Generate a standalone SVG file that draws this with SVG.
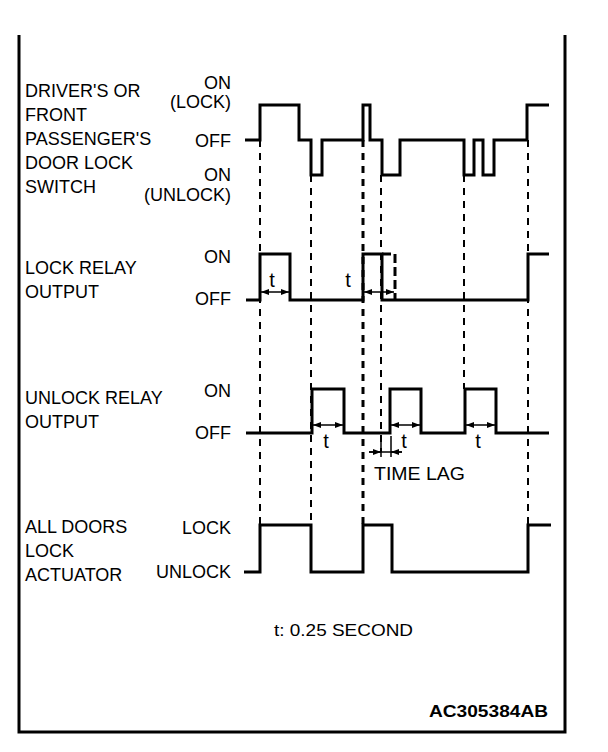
<svg xmlns="http://www.w3.org/2000/svg" width="608" height="752" viewBox="0 0 608 752">
<style>
text{font-family:"Liberation Sans",Arial,sans-serif;font-size:18px;fill:#000}
.r{text-anchor:end}
.t{text-anchor:middle;font-size:20px}
.wave{fill:none;stroke:#000;stroke-width:3;stroke-linejoin:miter;stroke-linecap:butt}
.dash{fill:none;stroke:#000;stroke-width:2;stroke-dasharray:7 6}
.dim{fill:none;stroke:#000;stroke-width:1.5}
.frame{fill:none;stroke:#000;stroke-width:3}
</style>
<defs>
<marker id="ah" viewBox="0 0 8 6" refX="8" refY="3" markerWidth="8" markerHeight="6" markerUnits="userSpaceOnUse" orient="auto-start-reverse">
<path d="M0,0 L8,3 L0,6 z" fill="#000"/>
</marker>
</defs>
<rect width="608" height="752" fill="#fff"/>
<path class="frame" d="M19,35 V732 H565 V35"/>

<g id="connectors">
<line class="dash" x1="260" y1="140" x2="260" y2="525"/>
<line class="dash" x1="311" y1="175" x2="311" y2="525"/>
<line class="dash" x1="363" y1="140" x2="363" y2="525" style="stroke-width:3"/>
<line class="dash" x1="381" y1="175" x2="381" y2="452"/>
<line class="dash" x1="464" y1="175" x2="464" y2="389"/>
<line class="dash" x1="528" y1="140" x2="528" y2="525"/>
</g>

<g id="switch">
<text x="25" y="97">DRIVER'S OR</text>
<text x="25" y="121">FRONT</text>
<text x="25" y="145">PASSENGER'S</text>
<text x="25" y="169">DOOR LOCK</text>
<text x="25" y="193">SWITCH</text>
<text class="r" x="231" y="89">ON</text>
<text class="r" x="231" y="108">(LOCK)</text>
<text class="r" x="231" y="147">OFF</text>
<text class="r" x="231" y="181">ON</text>
<text class="r" x="231" y="201">(UNLOCK)</text>
<path class="wave" d="M245,140 H260 V105 H299 V140 H311 V175 H322 V140 H363 V105 H370 V140 H382 V175 H400 V140 H464 V175 H474 V140 H483 V175 H494 V140 H527 V105 H549"/>
</g>

<g id="lock-relay">
<text x="25" y="274">LOCK RELAY</text>
<text x="25" y="298">OUTPUT</text>
<text class="r" x="231" y="263">ON</text>
<text class="r" x="231" y="305">OFF</text>
<path class="wave" d="M246,300 H260 V254 H290 V300 H363 V254 H382 V300 H528 V254 H549"/>
<path class="wave" d="M382,254 H395 V300" style="stroke-dasharray:9 4"/>
<line class="dim" x1="261" y1="292" x2="289" y2="292" marker-start="url(#ah)" marker-end="url(#ah)"/>
<line class="dim" x1="364" y1="292" x2="394" y2="292" marker-start="url(#ah)" marker-end="url(#ah)"/>
<text class="t" x="272" y="287">t</text>
<text class="t" x="348" y="287">t</text>
</g>

<g id="unlock-relay">
<text x="25" y="404">UNLOCK RELAY</text>
<text x="25" y="428">OUTPUT</text>
<text class="r" x="231" y="397">ON</text>
<text class="r" x="231" y="439">OFF</text>
<path class="wave" d="M246,433 H312 V389 H344 V433 H390 V389 H421 V433 H465 V389 H496 V433 H549"/>
<line class="dim" x1="313" y1="425" x2="343" y2="425" marker-start="url(#ah)" marker-end="url(#ah)"/>
<line class="dim" x1="391" y1="425" x2="420" y2="425" marker-start="url(#ah)" marker-end="url(#ah)"/>
<line class="dim" x1="466" y1="425" x2="495" y2="425" marker-start="url(#ah)" marker-end="url(#ah)"/>
<text class="t" x="326" y="448">t</text>
<text class="t" x="404" y="448">t</text>
<text class="t" x="478" y="448">t</text>
</g>

<g id="time-lag">
<line class="dim" x1="381" y1="436" x2="381" y2="457"/>
<line class="dim" x1="391" y1="436" x2="391" y2="457"/>
<line class="dim" x1="369" y1="452" x2="402" y2="452"/>
<path class="dim" d="M369,452 H381" marker-end="url(#ah)"/>
<path class="dim" d="M402,452 H391" marker-end="url(#ah)"/>
<text x="374" y="480" style="font-size:19px" textLength="91" lengthAdjust="spacingAndGlyphs">TIME LAG</text>
</g>

<g id="actuator">
<text x="25" y="533">ALL DOORS</text>
<text x="25" y="557">LOCK</text>
<text x="25" y="581">ACTUATOR</text>
<text class="r" x="231" y="534">LOCK</text>
<text class="r" x="231" y="578">UNLOCK</text>
<path class="wave" d="M244,572 H260 V525 H311 V572 H363 V525 H392 V572 H528 V525 H551"/>
</g>

<g id="notes">
<text x="274" y="636" style="font-size:17px" textLength="139" lengthAdjust="spacingAndGlyphs">t: 0.25 SECOND</text>
<text x="429" y="717" style="font-size:16px;font-weight:bold" textLength="119" lengthAdjust="spacingAndGlyphs">AC305384AB</text>
</g>
</svg>
